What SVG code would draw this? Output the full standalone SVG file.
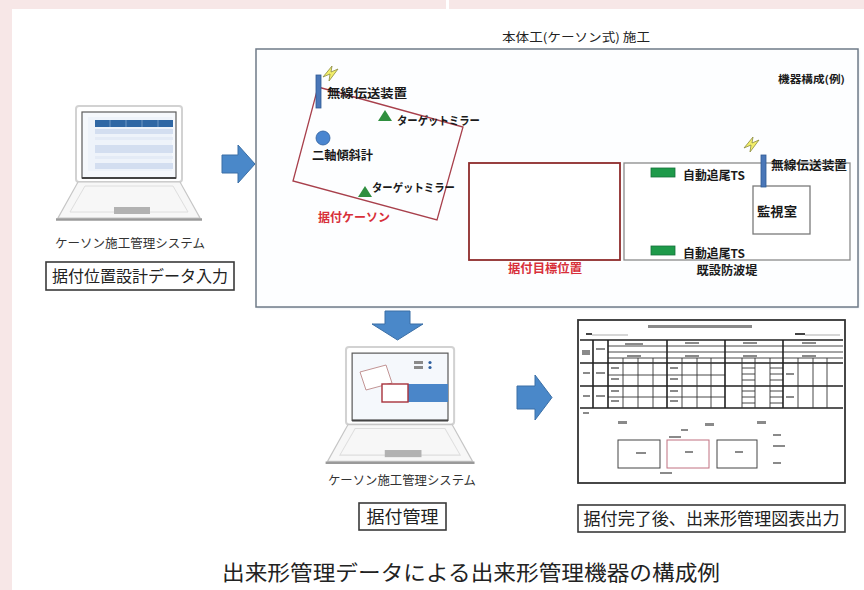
<svg xmlns="http://www.w3.org/2000/svg" width="864" height="590" viewBox="0 0 864 590">
  <style>
    .jp { font-family: "Noto Sans CJK JP", "Liberation Sans", sans-serif; }
    .lbl { font-family: "Noto Sans CJK JP", sans-serif; font-weight: 700; fill: #1a1a1a; }
    .red { fill: #d8303a; }
    .sys { font-family: "Noto Sans CJK JP", sans-serif; font-size: 12.5px; fill: #333; }
    .cap { font-family: "Noto Sans CJK JP", sans-serif; fill: #222; }
    .tbox { fill: #fff; stroke: #3a3a3a; stroke-width: 1.6; }
    .arrow { fill: #4a88c9; stroke: #3b6fa6; stroke-width: 1; }
    .tri { fill: #2f8f3f; }
    .ts { fill: #1e9a4a; stroke: #15713a; stroke-width: 0.8; }
    .radio { fill: #4a77b8; stroke: #2f5a94; stroke-width: 0.8; }
    .bolt { fill: #f2ee6a; stroke: #8a8a40; stroke-width: 0.8; }
    .grid { stroke: #333; stroke-width: 0.9; fill: none; }
    .gridb { stroke: #222; stroke-width: 1.6; fill: none; }
    .mark { fill: #8a8a8a; }
  </style>
  <defs>
    <!-- generic notebook PC outline, lid top-left at origin -->
    <g id="laptop-frame">
      <rect x="0" y="0" width="106" height="76" rx="3" fill="#fff" stroke="#d2d2d2" stroke-width="2"/>
      <polygon points="2,76 104,76 124,112 -18,112" fill="#f7f7f7" stroke="#c6c6c6" stroke-width="1.2"/>
      <polygon points="9,80 97,80 112,106 -6,106" fill="none" stroke="#dedede" stroke-width="1"/>
      <line x1="-20" y1="113.5" x2="126" y2="113.5" stroke="#9a9a9a" stroke-width="2.5"/>
      <rect x="38" y="101" width="36" height="7" fill="#b2b2b2"/>
      <rect x="6" y="6" width="94" height="66" fill="#f5f8fc" stroke="#5c5c5c" stroke-width="1.2"/>
      <line x1="6" y1="72" x2="100" y2="72" stroke="#444" stroke-width="2"/>
    </g>
    <!-- radio wave sign -->
    <polygon id="bolt" points="0,11 9,0 8,6 15,3 6,15 7,8" />
    <filter id="shadow" x="-5%" y="-5%" width="110%" height="110%">
      <feGaussianBlur stdDeviation="1.2"/>
    </filter>
  </defs>

  <!-- page background -->
  <rect x="0" y="0" width="864" height="590" fill="#fff"/>
  <rect x="0" y="0" width="864" height="9" fill="#f7e7e7"/>
  <rect x="446" y="0" width="3" height="9" fill="#fff"/>
  <rect x="0" y="0" width="12" height="590" fill="#f7e7e7"/>

  <!-- PC with layout design input -->
  <g id="pc-input">
    <use href="#laptop-frame" transform="translate(76,106)"/>
    <rect x="88" y="117" width="84" height="54" fill="#eef3fa"/>
    <rect x="95" y="120" width="78" height="7" fill="#2f67a4"/>
    <path d="M110 120v7M126 120v7M142 120v7M158 120v7" stroke="#7fa3cc" stroke-width="0.8"/>
    <rect x="95" y="129" width="78" height="5" fill="#d3def0"/>
    <rect x="95" y="137" width="78" height="3" fill="#e4ebf6"/>
    <rect x="95" y="145" width="78" height="8" fill="#d3def0"/>
    <rect x="95" y="156" width="78" height="3" fill="#e4ebf6"/>
    <rect x="95" y="163" width="78" height="6" fill="#d3def0"/>
    <text class="sys" x="130" y="248" text-anchor="middle" textLength="150" lengthAdjust="spacingAndGlyphs">ケーソン施工管理システム</text>
    <rect class="tbox" x="46" y="262" width="188" height="28"/>
    <text class="jp" x="140" y="282" font-size="16" fill="#222" text-anchor="middle" textLength="176" lengthAdjust="spacingAndGlyphs">据付位置設計データ入力</text>
  </g>

  <!-- caisson installation plan -->
  <g id="site-plan">
    <text class="jp" x="576" y="42" font-size="12" fill="#222" text-anchor="middle" textLength="148" lengthAdjust="spacingAndGlyphs">本体工(ケーソン式) 施工</text>
    <rect x="257" y="50" width="602" height="258" fill="#dfe6ee" filter="url(#shadow)"/>
    <rect x="256" y="49" width="602" height="258" fill="#fdfeff" stroke="#6f7b88" stroke-width="1.5"/>
    <text class="lbl" x="845" y="83" font-size="10" text-anchor="end" textLength="67" lengthAdjust="spacingAndGlyphs">機器構成(例)</text>

    <!-- caisson being placed -->
    <g id="caisson">
      <polygon points="318,87 463,127 437,220 293,181" fill="none" stroke="#a8404c" stroke-width="1.3"/>
      <use href="#bolt" class="bolt" transform="translate(323,66)"/>
      <rect class="radio" x="316" y="75" width="5" height="33"/>
      <text class="lbl" x="327" y="98" font-size="12.5" textLength="80" lengthAdjust="spacingAndGlyphs">無線伝送装置</text>
      <polygon class="tri" points="385,110 392,121 378,121"/>
      <text class="lbl" x="397" y="125" font-size="11.5" textLength="83" lengthAdjust="spacingAndGlyphs">ターゲットミラー</text>
      <circle cx="323" cy="138" r="7" fill="#4a86d0" stroke="#2e5f9e" stroke-width="0.8"/>
      <text class="lbl" x="312" y="160" font-size="12" textLength="61" lengthAdjust="spacingAndGlyphs">二軸傾斜計</text>
      <polygon class="tri" points="365,186 372,197 358,197"/>
      <text class="lbl" x="372" y="192" font-size="11.5" textLength="83" lengthAdjust="spacingAndGlyphs">ターゲットミラー</text>
      <text class="lbl red" x="318" y="222" font-size="12" textLength="72" lengthAdjust="spacingAndGlyphs">据付ケーソン</text>
    </g>

    <!-- target position -->
    <g id="target-position">
      <rect x="469" y="163" width="151" height="97" fill="#fff" stroke="#8e2c2c" stroke-width="1.8"/>
      <text class="lbl red" x="545" y="273" font-size="12" text-anchor="middle" textLength="74" lengthAdjust="spacingAndGlyphs">据付目標位置</text>
    </g>

    <!-- existing breakwater with total stations -->
    <g id="breakwater">
      <rect x="624" y="163" width="226" height="97" fill="#fff" stroke="#8a8a8a" stroke-width="1.3"/>
      <rect class="ts" x="651" y="168" width="24" height="9"/>
      <text class="lbl" x="683" y="180" font-size="12" textLength="62" lengthAdjust="spacingAndGlyphs">自動追尾TS</text>
      <rect class="ts" x="651" y="246" width="24" height="9"/>
      <text class="lbl" x="683" y="258" font-size="12" textLength="62" lengthAdjust="spacingAndGlyphs">自動追尾TS</text>
      <text class="lbl" x="727" y="275" font-size="12" text-anchor="middle" textLength="61" lengthAdjust="spacingAndGlyphs">既設防波堤</text>
    </g>

    <!-- monitoring room -->
    <g id="monitor-room">
      <rect x="753" y="186" width="57" height="48" fill="#fff" stroke="#7a7a7a" stroke-width="1.3"/>
      <text class="lbl" x="757" y="216" font-size="13" textLength="40" lengthAdjust="spacingAndGlyphs">監視室</text>
      <use href="#bolt" class="bolt" transform="translate(744,137)"/>
      <rect class="radio" x="761" y="155" width="5" height="32"/>
      <text class="lbl" x="771" y="170" font-size="12.5" textLength="76" lengthAdjust="spacingAndGlyphs">無線伝送装置</text>
    </g>
  </g>

  <!-- PC for placement management -->
  <g id="pc-manage">
    <use href="#laptop-frame" transform="translate(346,347) scale(1.02)"/>
    <polygon points="360,372 386,365 392,383 366,390" fill="#fff" stroke="#b88" stroke-width="0.9"/>
    <rect x="408" y="384" width="40" height="18" fill="#4a86c9"/>
    <rect x="382" y="384" width="26" height="18" fill="#fff" stroke="#a8323c" stroke-width="1.4"/>
    <rect x="414" y="361" width="9" height="3" class="mark"/>
    <rect x="414" y="366" width="9" height="3" class="mark"/>
    <circle cx="430" cy="362.5" r="1.6" fill="#2f5f9f"/>
    <circle cx="430" cy="367.5" r="1.6" fill="#2f5f9f"/>
    <text class="sys" x="402" y="485" text-anchor="middle" textLength="148" lengthAdjust="spacingAndGlyphs">ケーソン施工管理システム</text>
    <rect class="tbox" x="359" y="503" width="87" height="27"/>
    <text class="jp" x="402.5" y="523" font-size="17" fill="#222" text-anchor="middle" textLength="72" lengthAdjust="spacingAndGlyphs">据付管理</text>
  </g>

  <!-- as-built report sheet -->
  <g id="report">
    <rect x="578" y="320" width="267" height="163" fill="#fff" stroke="#333" stroke-width="1.8"/>
    <rect x="648" y="325" width="104" height="3" class="mark"/>
    <rect x="586" y="333" width="6" height="2" fill="#444"/>
    <line x1="592" y1="335" x2="628" y2="335" stroke="#777" stroke-width="0.6"/>
    <rect x="795" y="333" width="10" height="2" fill="#444"/>
    <line x1="805" y1="335" x2="840" y2="335" stroke="#777" stroke-width="0.6"/>
    <!-- table rules -->
    <path class="gridb" d="M580 340H843M580 363H843M580 386H843M580 408H843"/>
    <path class="grid" d="M608 346H843M608 352H843M608 358H843M608 375H667M667 375H725M608 397H667M667 397H725"/>
    <path class="grid" d="M742 368H755M742 374H755M742 380H755M742 391H755M742 397H755M742 403H755M770 368H783M770 374H783M770 380H783M770 391H783M770 397H783M770 403H783"/>
    <path class="gridb" d="M593 340V408M608 340V408M667 340V408M725 340V408M783 340V408"/>
    <path class="grid" d="M623 358V408M638 358V408M653 358V408M682 358V408M697 358V408M711 358V408M742 358V408M755 358V408M770 358V408M798 358V408M813 358V408M827 358V408"/>
    <g class="mark">
      <rect x="625" y="343" width="18" height="2"/><rect x="685" y="342" width="14" height="2"/><rect x="743" y="342" width="14" height="2"/><rect x="802" y="342" width="14" height="2"/>
      <rect x="627" y="355" width="14" height="2"/><rect x="685" y="355" width="14" height="2"/><rect x="743" y="355" width="14" height="2"/><rect x="802" y="355" width="14" height="2"/>
      <rect x="582" y="350" width="8" height="5"/><rect x="596" y="348" width="9" height="2"/>
      <rect x="583" y="372" width="7" height="2"/><rect x="596" y="372" width="9" height="2"/>
      <rect x="583" y="395" width="7" height="2"/><rect x="596" y="395" width="9" height="2"/>
      <rect x="611" y="367" width="8" height="2"/><rect x="611" y="378" width="8" height="2"/><rect x="611" y="390" width="8" height="2"/><rect x="611" y="400" width="8" height="2"/>
      <rect x="670" y="367" width="8" height="2"/><rect x="670" y="378" width="8" height="2"/><rect x="670" y="390" width="8" height="2"/><rect x="670" y="400" width="8" height="2"/>
      <rect x="786" y="373" width="8" height="2"/><rect x="786" y="396" width="8" height="2"/>
      <rect x="583" y="412" width="6" height="2"/>
      <rect x="618" y="421" width="9" height="3"/><rect x="705" y="423" width="9" height="3"/><rect x="757" y="421" width="9" height="3"/>
      <rect x="681" y="429" width="7" height="2"/><rect x="669" y="436" width="12" height="2"/>
      <rect x="773" y="434" width="8" height="2"/><rect x="773" y="445" width="12" height="2"/><rect x="773" y="462" width="8" height="2"/>
      <rect x="636" y="452" width="10" height="2"/><rect x="685" y="451" width="8" height="2"/><rect x="735" y="451" width="8" height="2"/>
      <rect x="660" y="472" width="12" height="2"/>
    </g>
    <rect x="618" y="440" width="42" height="28" fill="none" stroke="#444" stroke-width="1"/>
    <rect x="667" y="440" width="42" height="28" fill="none" stroke="#c07080" stroke-width="1"/>
    <rect x="717" y="440" width="40" height="28" fill="none" stroke="#444" stroke-width="1"/>
    <rect class="tbox" x="578" y="505" width="267" height="27"/>
    <text class="jp" x="711.5" y="525" font-size="17.5" fill="#222" text-anchor="middle" textLength="256" lengthAdjust="spacingAndGlyphs">据付完了後、出来形管理図表出力</text>
  </g>

  <!-- flow arrows -->
  <g id="connectors">
    <polygon class="arrow" points="222,155 238,155 238,145 255,164 238,183 238,173 222,173"/>
    <polygon class="arrow" points="385,311 410,311 410,324 423,324 397.5,340 372,324 385,324"/>
    <polygon class="arrow" points="517,386 535,386 535,375 552,397.5 535,420 535,409 517,409"/>
  </g>

  <text class="cap" x="471" y="580" font-size="21" text-anchor="middle" textLength="498" lengthAdjust="spacingAndGlyphs">出来形管理データによる出来形管理機器の構成例</text>
</svg>
